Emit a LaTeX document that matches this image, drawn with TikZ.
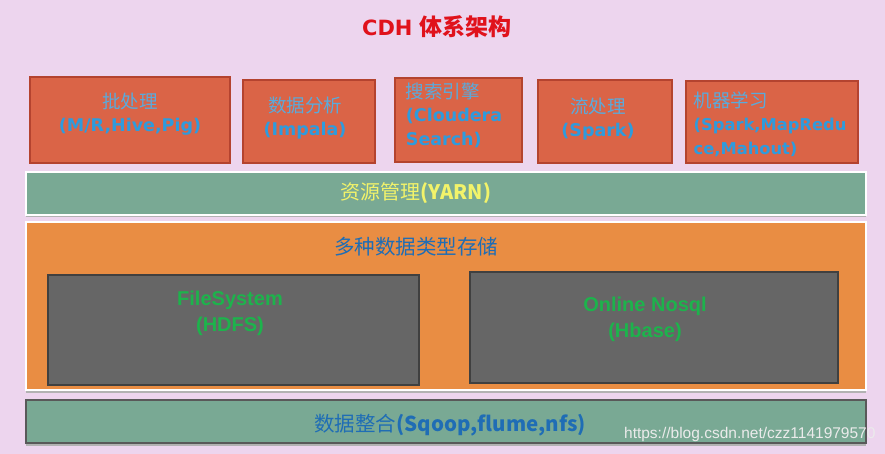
\documentclass[tikz,border=0pt]{standalone}
\usepackage{fontspec}
\setmainfont{DejaVu Sans}
\newfontfamily\cjk{Noto Sans CJK SC}
\newfontfamily\arialfont{Liberation Sans}
\usetikzlibrary{shadows}

\definecolor{bgpink}{HTML}{EDD5EE}
\definecolor{appfill}{HTML}{DA6447}
\definecolor{appborder}{HTML}{B4432F}
\definecolor{appblue}{HTML}{2E9BDD}
\definecolor{zhblue}{HTML}{5AAADB}
\definecolor{bargreen}{HTML}{79A994}
\definecolor{storeorange}{HTML}{E98D43}
\definecolor{darkblue}{HTML}{1F6DB5}
\definecolor{yarnyellow}{HTML}{F2F36A}
\definecolor{fsgray}{HTML}{666666}
\definecolor{fsgreen}{HTML}{1DB34C}
\definecolor{titlered}{HTML}{E0121B}

\newcommand{\zh}[1]{{\cjk\mdseries\fontsize{18.5}{24}\selectfont\color{zhblue}#1}}

\begin{document}
\begin{tikzpicture}[x=1pt,y=-1pt]
	\tikzstyle{app}=[rectangle, draw=appborder, line width=1.5pt, fill=appfill]
	\tikzstyle{app text}=[text=appblue, inner sep=0pt, font=\bfseries\fontsize{17.5}{23.5}\selectfont]
	\tikzstyle{layer}=[rectangle, draw=white, line width=2pt, fill=bargreen, minimum width=840pt, minimum height=43pt, drop shadow={shadow xshift=0pt, shadow yshift=-2.5pt, fill=black!30, opacity=1}]
	\tikzstyle{store}=[rectangle, draw=black!75, line width=1.5pt, fill=fsgray]
	\tikzstyle{store text}=[text=fsgreen, font=\arialfont\bfseries\fontsize{20}{26}\selectfont, align=center]

	% background
	\fill[bgpink] (0,0) rectangle (885,454);
	\useasboundingbox (0,0) rectangle (885,454);

	\node (title) at (437,27) {\color{titlered}\bfseries\fontsize{21}{24}\selectfont CDH {\cjk\fontsize{23}{24}\selectfont 体系架构}};

	% compute frameworks
	\node [app, minimum width=200pt, minimum height=86pt] (batch) at (130,120) {};
	\node [app text, align=center] (batch label) at (130,114) {\zh{批处理}\\(M/R,Hive,Pig)};
	\node [app, minimum width=132pt, minimum height=83pt] (impala) at (309,121.5) {};
	\node [app text, align=center] (impala label) at (305,118) {\zh{数据分析}\\(Impala)};
	\node [app, minimum width=127pt, minimum height=84pt] (search) at (458.5,120) {};
	\node [app text, align=left] (search label) at (454,115) {\zh{搜索引擎}\\(Cloudera\\Search)};
	\node [app, minimum width=134pt, minimum height=83pt] (stream) at (605,121.5) {};
	\node [app text, align=center] (stream label) at (598,119) {\zh{流处理}\\(Spark)};
	\node [app, minimum width=172pt, minimum height=82pt] (ml) at (772,122) {};
	\node [app text, align=left, font=\bfseries\fontsize{16.3}{23.5}\selectfont] (ml label) at (770,124) {\zh{机器学习}\\(Spark,MapRedu\\ce,Mahout)};

	% resource management
	\node [layer] (yarn) at (446,193.5) {};
	\node [text=yarnyellow, font=\cjk\fontsize{20}{22}\selectfont] (yarn label) at (416,193) {资源管理{\bfseries(YARN)}};

	% storage
	\node [layer, fill=storeorange, minimum height=168pt] (storage) at (446,306) {};
	\node [text=darkblue, font=\cjk\fontsize{20.5}{22}\selectfont] (storage label) at (416,247) {多种数据类型存储};
	\node [store, minimum width=371pt, minimum height=110pt] (hdfs) at (233.5,330) {};
	\node [store text] (hdfs label) at (230,313) {FileSystem\\(HDFS)};
	\node [store, minimum width=368pt, minimum height=111pt] (hbase) at (654,327.5) {};
	\node [store text] (hbase label) at (645,319) {Online Nosql\\(Hbase)};

	% data integration
	\node [layer, draw=black!65, line width=1.5pt, drop shadow={opacity=0}] (ingest) at (446,421.5) {};
	\node [text=darkblue, font=\cjk\fontsize{20.5}{22}\selectfont] (ingest label) at (450,425) {数据整合{\bfseries(Sqoop,flume,nfs)}};

	\node [text=black!8, font=\arialfont\fontsize{15.5}{17}\selectfont, anchor=east] (watermark) at (879,434) {https://blog.csdn.net/czz1141979570};
\end{tikzpicture}
\end{document}
